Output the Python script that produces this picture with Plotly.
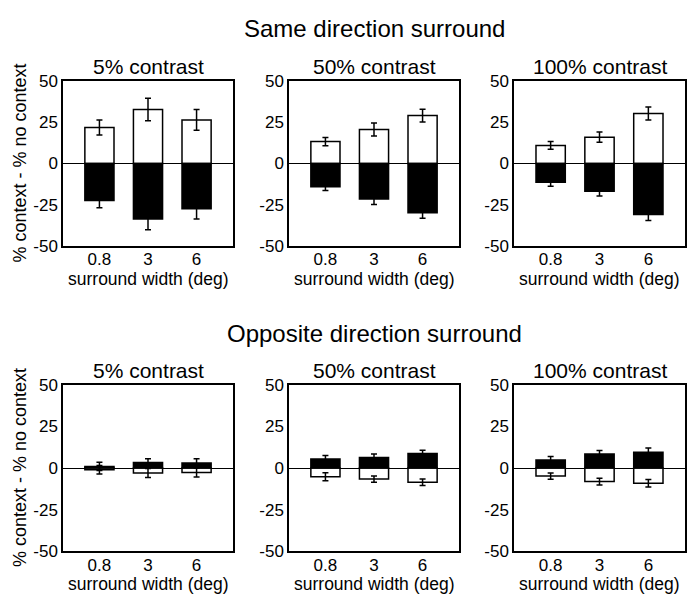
import plotly.graph_objects as go

categories = ["0.8", "3", "6"]
contrast_labels = ["5% contrast", "50% contrast", "100% contrast"]
row_titles = ["Same direction surround", "Opposite direction surround"]
y_ticks = [-50, -25, 0, 25, 50]
y_tick_text = ["-50", "-25", "0", "25", "50"]

# Same direction surround
same_white_5 = [21.7, 32.6, 26.3]
same_white_5_err = [4.5, 6.8, 6.3]
same_black_5 = [-22.3, -33.5, -27.3]
same_black_5_err = [4.4, 6.5, 6.2]
same_white_50 = [13.2, 20.5, 28.9]
same_white_50_err = [2.5, 3.9, 3.8]
same_black_50 = [-14.0, -21.5, -29.8]
same_black_50_err = [2.3, 3.3, 3.2]
same_white_100 = [10.9, 15.9, 30.2]
same_white_100_err = [2.3, 3.1, 3.9]
same_black_100 = [-11.4, -16.7, -30.8]
same_black_100_err = [2.4, 2.9, 3.7]

# Opposite direction surround
opp_black_5 = [1.0, 3.3, 3.1]
opp_black_5_err = [2.5, 2.3, 2.5]
opp_white_5 = [-1.0, -3.0, -2.7]
opp_white_5_err = [2.5, 2.7, 2.7]
opp_black_50 = [5.4, 6.4, 8.7]
opp_black_50_err = [2.2, 2.1, 2.0]
opp_white_50 = [-5.2, -6.6, -8.5]
opp_white_50_err = [2.4, 1.9, 1.9]
opp_black_100 = [4.8, 8.5, 9.5]
opp_black_100_err = [2.2, 2.0, 2.6]
opp_white_100 = [-4.8, -8.1, -9.1]
opp_white_100_err = [1.9, 2.0, 2.3]

panels = [
    [(same_white_5, same_white_5_err, same_black_5, same_black_5_err),
     (same_white_50, same_white_50_err, same_black_50, same_black_50_err),
     (same_white_100, same_white_100_err, same_black_100, same_black_100_err)],
    [(opp_white_5, opp_white_5_err, opp_black_5, opp_black_5_err),
     (opp_white_50, opp_white_50_err, opp_black_50, opp_black_50_err),
     (opp_white_100, opp_white_100_err, opp_black_100, opp_black_100_err)],
]

W, H = 699, 604
FONT = "Liberation Sans, Arial, Helvetica, sans-serif"
x_px = [(63, 233), (289, 459), (514, 685)]
y_px = [(74, 245), (388, 560)]

fig = go.Figure()
layout = {}
annotations = []
idx = 0
for r in range(2):
    for c in range(3):
        idx += 1
        xa = "x" if idx == 1 else f"x{idx}"
        ya = "y" if idx == 1 else f"y{idx}"
        w, we, b, be = panels[r][c]
        for vals, errs, fill in ((w, we, "white"), (b, be, "black")):
            fig.add_trace(go.Bar(
                x=categories, y=vals, width=0.6,
                marker=dict(color=fill, line=dict(color="black", width=1.5)),
                error_y=dict(type="data", array=errs, visible=True,
                             color="black", thickness=1.5, width=3),
                xaxis=xa, yaxis=ya, showlegend=False,
            ))
        x0, x1 = x_px[c]
        y0, y1 = y_px[r]
        layout["xaxis" if idx == 1 else f"xaxis{idx}"] = dict(
            domain=[x0 / W, x1 / W], anchor=ya, range=[-0.75, 2.75],
            showline=True, mirror=True, linecolor="black", linewidth=1.5,
            showgrid=False, zeroline=False, ticks="", ticklabelstandoff=-3,
            tickfont=dict(family=FONT, size=17, color="black"),
        )
        layout["yaxis" if idx == 1 else f"yaxis{idx}"] = dict(
            domain=[1 - y1 / H, 1 - y0 / H], anchor=xa, range=[-50, 50],
            tickvals=y_ticks, ticktext=y_tick_text, ticks="",
            showline=True, mirror=True, linecolor="black", linewidth=1.5,
            showgrid=False, zeroline=True, zerolinecolor="black", zerolinewidth=1,
            tickfont=dict(family=FONT, size=17, color="black"),
        )
        cx = (x0 + x1) / 2 / W
        annotations.append(dict(
            text=contrast_labels[c], x=cx, y=1 - (y0 - 15) / H,
            xref="paper", yref="paper", showarrow=False,
            xanchor="center", yanchor="middle",
            font=dict(family=FONT, size=21, color="black"),
        ))
        annotations.append(dict(
            text="surround width (deg)", x=cx, y=1 - (y1 + 34) / H,
            xref="paper", yref="paper", showarrow=False,
            xanchor="center", yanchor="middle",
            font=dict(family=FONT, size=17.5, color="black"),
        ))
    yc = (y_px[r][0] + y_px[r][1]) / 2
    annotations.append(dict(
        text="% context - % no context", x=20 / W, y=1 - yc / H,
        xref="paper", yref="paper", showarrow=False, textangle=-90,
        xanchor="center", yanchor="middle",
        font=dict(family=FONT, size=18, color="black"),
    ))
    annotations.append(dict(
        text=row_titles[r], x=374 / W, y=1 - (20 if r == 0 else 335) / H,
        xref="paper", yref="paper", showarrow=False,
        xanchor="center", yanchor="middle",
        font=dict(family=FONT, size=24, color="black"),
    ))

fig.update_layout(
    width=W, height=H, margin=dict(l=0, r=0, t=0, b=0),
    paper_bgcolor="white", plot_bgcolor="white",
    barmode="overlay", annotations=annotations, **layout,
)
fig.write_html("out.html")
